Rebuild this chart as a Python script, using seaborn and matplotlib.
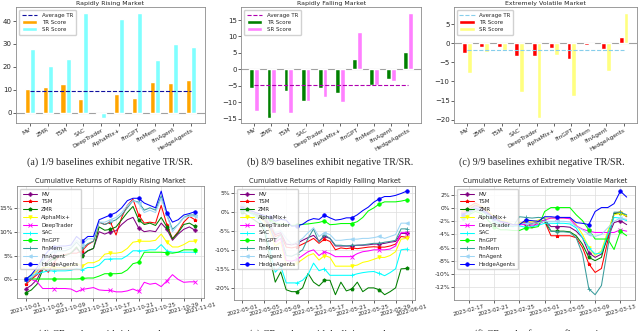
import numpy as np
import pandas as pd
import matplotlib
matplotlib.use("Agg")
import matplotlib.pyplot as plt
import matplotlib.dates as mdates
from matplotlib.ticker import MultipleLocator, FuncFormatter
import seaborn as sns

sns.set_theme(style="ticks")
plt.rcParams.update({"font.family": ["DejaVu Sans"],
                     "axes.edgecolor": "#8c8c8c", "axes.linewidth": 0.6,
                     "xtick.major.size": 2, "ytick.major.size": 2,
                     "xtick.major.width": 0.5, "ytick.major.width": 0.5,
                     "xtick.major.pad": 1, "ytick.major.pad": 1})

# ---------------- bar chart data ----------------
AGENTS = ["MV", "ZMR", "TSM", "SAC", "DeepTrader", "AlphaMix+",
          "FinGPT", "FinMem", "FinAgent", "HedgeAgents"]

rise_tr = [10.5, 11.2, 12.7, 6.2, -0.7, 8.0, 6.3, 13.5, 13.2, 14.3]
rise_sr = [28.0, 20.5, 23.5, 43.7, -2.2, 41.0, 43.3, 23.0, 29.8, 28.7]
fall_tr = [-5.7, -14.8, -6.5, -9.8, -5.8, -7.2, 3.0, -4.7, -3.0, 5.4]
fall_sr = [-12.7, -13.4, -13.4, -9.8, -8.5, -10.0, 11.5, -4.7, -3.6, 17.3]
vol_tr = [-2.5, -1.1, -1.1, -3.3, -3.3, -1.2, -4.1, -0.5, -1.6, 1.7]
vol_sr = [-7.8, -2.3, -1.8, -12.8, -19.5, -3.1, -13.7, -0.1, -7.2, 8.0]

# ---------------- cumulative return data (%) ----------------
LINE_ORDER = ["MV", "TSM", "ZMR", "AlphaMix+", "DeepTrader", "SAC",
              "FinGPT", "FinMem", "FinAgent", "HedgeAgents"]
LINE_COLORS = {"MV": "purple", "TSM": "red", "ZMR": "green",
               "AlphaMix+": "yellow", "DeepTrader": "magenta", "SAC": "cyan",
               "FinGPT": "lime", "FinMem": "#3a9c9c", "FinAgent": "#9fd6f5",
               "HedgeAgents": "blue"}
LINE_MARKERS = {"MV": "P", "TSM": "*", "ZMR": "p", "AlphaMix+": "v",
                "DeepTrader": "x", "SAC": "+", "FinGPT": "o", "FinMem": "+",
                "FinAgent": "<", "HedgeAgents": "o"}

rise_dates = pd.date_range("2021-10-01", "2021-10-31")
rise_mv = [-2.0, -1.2, 0.0, 2.5, 4.0, 5.0, 5.0, 5.0, 5.5, 6.5, 5.2, 6.0, 6.5, 10.0, 9.5, 10.0, 10.2, 11.5, 12.5, 13.0, 10.8, 10.0, 10.2, 10.0, 11.8, 10.5, 8.2, 9.5, 10.5, 11.0, 10.3]
rise_tsm = [-1.0, 0.0, 1.0, 2.5, 1.5, 3.5, 5.0, 5.2, 5.5, 5.5, 6.0, 7.3, 8.0, 12.0, 11.5, 12.0, 9.3, 13.0, 15.5, 16.8, 13.5, 11.8, 12.0, 11.8, 15.5, 11.5, 8.5, 10.0, 12.0, 13.2, 12.5]
rise_zmr = [-2.8, -2.2, -1.0, 2.0, 3.5, 4.5, 5.0, 5.0, 5.5, 6.8, 5.0, 6.0, 6.5, 11.0, 10.3, 10.5, 11.0, 12.5, 14.0, 15.3, 12.5, 11.5, 11.8, 11.3, 13.0, 11.0, 8.5, 9.8, 11.5, 11.8, 11.1]
rise_alpha = [0.0, 1.0, 1.8, 2.5, 2.5, 2.5, 2.5, 2.5, 2.8, 3.3, 2.8, 3.5, 3.5, 4.0, 5.3, 5.5, 5.5, 5.7, 6.5, 7.8, 8.0, 8.0, 8.0, 8.2, 9.5, 7.8, 6.8, 6.8, 7.3, 8.0, 8.0]
rise_deep = [0.0, 0.0, -0.5, -1.9, -1.9, -1.9, -1.9, -1.9, -2.0, -2.6, -2.1, -1.9, -1.7, -2.2, -2.3, -2.3, -2.6, -2.6, -2.4, -2.0, -2.5, -0.6, -1.0, -0.8, -1.5, -0.3, 1.0, 0.0, -0.6, -0.5, -0.5]
rise_sac = [0.0, 0.8, 1.2, 1.5, 1.8, 1.8, 1.8, 1.8, 1.9, 2.3, 2.0, 2.5, 2.5, 3.0, 4.2, 4.3, 4.3, 4.3, 5.0, 6.0, 6.0, 6.0, 6.2, 6.2, 7.3, 6.0, 5.7, 5.7, 5.7, 5.7, 5.7]
rise_fingpt = [0.0, 0.1, 0.1, 0.1, 0.1, 0.1, 0.1, 0.1, 0.1, 0.1, 0.2, 0.3, 0.3, 0.7, 1.2, 1.2, 1.2, 1.3, 2.0, 3.3, 3.6, 5.7, 5.7, 5.7, 5.7, 5.6, 5.5, 5.7, 6.2, 6.2, 6.2]
rise_finmem = [-0.3, 0.3, 1.5, 4.0, 5.0, 6.0, 6.0, 6.0, 6.5, 7.8, 6.5, 7.5, 8.0, 12.0, 11.5, 12.0, 12.5, 13.5, 15.0, 16.5, 16.2, 14.5, 15.0, 14.5, 17.5, 13.5, 10.5, 11.5, 13.0, 13.5, 13.5]
rise_finagent = [0.0, 0.5, 1.5, 3.5, 5.0, 6.0, 6.5, 6.5, 6.8, 8.2, 7.3, 8.5, 8.5, 12.0, 12.0, 12.5, 13.0, 14.0, 15.5, 16.5, 16.0, 14.0, 14.5, 14.0, 17.0, 13.5, 10.0, 11.5, 13.0, 13.2, 13.3]
rise_hedge = [0.0, 1.0, 2.5, 4.5, 6.0, 6.8, 7.0, 7.0, 7.2, 9.0, 8.0, 9.0, 9.0, 12.5, 13.0, 13.5, 14.0, 15.0, 16.5, 17.0, 17.0, 16.0, 15.5, 15.0, 18.5, 14.0, 12.0, 12.5, 13.5, 13.8, 14.2]

fall_dates = pd.date_range("2022-05-01", "2022-05-31")
fall_mv = [1.5, 0.5, -0.5, -1.0, -1.5, -3.0, -6.0, -5.5, -8.5, -8.7, -8.3, -7.5, -6.8, -6.2, -7.7, -6.5, -7.0, -9.0, -9.0, -9.0, -9.0, -8.8, -8.8, -8.7, -8.5, -8.5, -8.3, -8.0, -7.8, -5.7, -5.7]
fall_tsm = [1.0, 0.5, -0.5, -1.0, -2.0, -3.5, -6.5, -6.0, -9.3, -9.5, -9.2, -8.5, -7.8, -7.0, -8.3, -7.2, -7.8, -10.0, -9.5, -9.7, -9.5, -9.7, -9.5, -9.3, -9.2, -9.3, -9.3, -9.0, -8.5, -6.5, -6.7]
fall_zmr = [0.0, -1.0, -2.0, -3.0, -5.0, -12.0, -18.5, -15.8, -20.5, -21.0, -21.0, -20.0, -16.2, -18.5, -19.5, -18.0, -18.0, -21.8, -18.5, -20.8, -20.3, -18.5, -21.0, -20.0, -20.0, -20.5, -21.8, -21.0, -20.0, -15.0, -14.9]
fall_alpha = [1.5, 0.5, -0.5, -1.5, -2.5, -5.0, -9.0, -8.0, -14.0, -14.2, -13.5, -12.5, -11.5, -11.0, -12.7, -11.5, -12.0, -14.3, -14.3, -14.3, -14.3, -14.0, -13.3, -13.0, -12.5, -12.0, -12.0, -11.5, -10.5, -7.2, -7.0]
fall_deep = [2.0, 1.0, 0.0, -1.0, -2.0, -4.0, -8.0, -7.0, -12.8, -13.0, -12.5, -11.5, -10.5, -10.0, -11.5, -10.5, -11.0, -11.8, -11.8, -11.8, -11.8, -11.0, -10.5, -10.3, -10.0, -10.0, -10.0, -9.8, -9.0, -5.5, -5.5]
fall_sac = [1.0, 0.0, -1.0, -2.0, -4.0, -10.0, -15.9, -14.3, -18.7, -18.7, -18.7, -18.0, -16.5, -13.5, -15.5, -15.0, -16.7, -16.7, -16.7, -16.7, -16.7, -16.3, -16.0, -15.8, -15.7, -16.2, -16.8, -16.0, -15.0, -10.0, -9.8]
fall_fingpt = [0.5, 0.0, -0.5, -1.0, -1.5, -2.0, -3.0, -3.3, -3.4, -3.6, -3.5, -3.3, -3.2, -3.0, -2.8, -2.4, -3.4, -3.3, -3.1, -3.1, -3.1, -2.6, -1.5, 0.2, 1.0, 2.0, 2.6, 2.6, 2.6, 2.8, 3.1]
fall_finmem = [0.5, 0.0, -0.5, -1.5, -2.0, -4.0, -7.5, -6.0, -11.5, -11.7, -11.0, -10.0, -7.0, -4.5, -8.0, -6.0, -7.0, -8.8, -8.8, -9.0, -8.8, -8.8, -8.7, -8.5, -8.3, -8.3, -8.0, -7.8, -7.5, -4.5, -4.5]
fall_finagent = [2.0, 1.0, 0.0, -0.5, -1.0, -3.0, -5.5, -5.0, -7.0, -8.5, -8.0, -7.0, -5.5, -4.2, -6.5, -5.5, -6.0, -7.5, -7.5, -7.3, -7.2, -7.2, -7.0, -7.0, -6.8, -6.5, -7.0, -6.5, -6.0, -3.0, -3.0]
fall_hedge = [1.0, 0.5, 0.0, -0.5, -1.0, -1.5, -2.5, -2.0, -2.2, -3.8, -3.7, -3.3, -2.3, -1.8, -2.0, -0.9, -1.6, -2.2, -2.0, -1.6, -1.6, -0.8, 0.3, 1.2, 2.5, 3.4, 4.0, 4.0, 4.3, 4.8, 5.4]

vol_dates = pd.date_range("2023-02-16", "2023-03-14")
vol_mv = [-0.8, -0.2, 0.5, 0.2, -0.6, -1.5, -2.0, -2.2, -2.6, -2.4, -2.2, -2.3, -2.2, -1.8, -2.8, -2.8, -2.8, -2.9, -3.5, -4.5, -6.8, -7.5, -7.0, -4.5, -2.2, -1.9, -2.5]
vol_tsm = [-0.5, 0.2, 0.8, 0.3, -0.5, -1.5, -2.0, -2.3, -2.7, -2.5, -2.0, -3.0, -2.0, -2.0, -4.2, -4.2, -4.2, -4.2, -4.5, -6.0, -8.5, -9.8, -9.2, -5.0, -0.8, -0.6, -1.3]
vol_zmr = [-1.0, -0.3, 0.3, 0.0, -0.8, -1.8, -2.3, -2.5, -2.8, -2.3, -2.5, -2.4, -2.2, -2.0, -3.5, -3.5, -3.5, -3.6, -4.2, -5.5, -7.5, -8.0, -7.5, -4.0, -0.8, -0.7, -1.2]
vol_alpha = [-0.6, 0.0, 0.6, 0.3, -0.4, -1.3, -1.8, -2.0, -2.5, -2.3, -2.0, -2.1, -1.8, -1.5, -1.5, -1.5, -1.5, -1.6, -2.5, -4.0, -6.0, -7.2, -6.5, -3.5, -1.0, -0.8, -1.2]
vol_deep = [-0.8, -0.3, 0.3, 0.0, -0.8, -1.6, -2.2, -2.3, -2.6, -2.5, -2.5, -2.6, -2.5, -1.8, -1.5, -1.5, -1.5, -1.6, -2.7, -3.2, -3.5, -3.7, -3.7, -3.7, -3.7, -3.3, -3.5]
vol_sac = [-1.2, -0.6, 0.0, -0.3, -1.2, -2.0, -2.5, -2.8, -2.8, -2.7, -2.9, -2.8, -2.6, -2.3, -2.3, -2.3, -2.3, -2.4, -3.0, -4.5, -6.0, -7.0, -6.8, -4.0, -1.4, -1.5, -1.9]
vol_fingpt = [-1.5, -1.0, -0.5, -0.8, -1.8, -2.8, -3.3, -3.3, -3.4, -3.4, -3.0, -3.0, -2.8, -0.5, 0.1, 0.1, 0.1, 0.1, -1.0, -1.9, -3.3, -4.7, -4.7, -4.7, -6.3, -3.5, -4.2]
vol_finmem = [-1.5, -0.8, -0.2, -0.5, -1.0, -1.8, -2.3, -2.5, -2.8, -1.3, -1.4, -1.5, -1.4, -1.5, -3.5, -3.6, -3.6, -3.7, -4.5, -7.0, -12.3, -13.2, -11.8, -6.0, -0.6, -0.6, -1.0]
vol_finagent = [-1.0, -0.5, 0.2, -0.1, -0.9, -1.8, -2.3, -2.5, -2.6, -2.4, -2.3, -2.4, -2.2, -2.0, -2.0, -2.0, -2.0, -2.1, -2.8, -3.3, -4.0, -4.3, -4.0, -3.0, -2.0, -1.5, -1.7]
vol_hedge = [-1.0, -0.5, 0.0, -0.3, -0.8, -1.5, -2.0, -2.2, -2.5, -2.5, -1.8, -1.9, -2.0, -1.3, -1.3, -1.4, -1.4, -1.4, -2.2, -2.3, -2.5, -0.5, 0.1, 0.1, 0.7, 2.6, 1.7]


def bar_panel(ax, title, tr, sr, tr_color, sr_color, avg_color):
    x = np.arange(len(AGENTS))
    w = 0.28
    ax.axhline(0, color="#a0a0a0", lw=0.8, zorder=1)
    b1 = ax.bar(x - w / 2, tr, w, color=tr_color, label="TR Score", zorder=2)
    b2 = ax.bar(x + w / 2, sr, w, color=sr_color, label="SR Score", zorder=2)
    avg = ax.hlines(np.mean(tr), x[0], x[-1], colors=avg_color,
                    linestyles="--", lw=0.8, label="Average TR", zorder=3)
    ax.set_xticks(x)
    ax.set_xticklabels(AGENTS, rotation=30, ha="right", rotation_mode="anchor",
                       fontsize=4.2)
    ax.tick_params(axis="y", labelsize=5)
    ax.set_title(title, fontsize=4.5, pad=1.5)
    ax.legend(handles=[avg, b1, b2], loc="upper left", fontsize=4,
              handlelength=2.8, borderpad=0.5, labelspacing=0.4,
              framealpha=0.9, edgecolor="#cccccc")


def line_panel(ax, title, dates, series, ystep):
    for name in LINE_ORDER:
        sns.lineplot(x=dates, y=series[name], ax=ax, color=LINE_COLORS[name],
                     marker=LINE_MARKERS[name], markersize=2.5, markevery=5,
                     markeredgewidth=0.6, markeredgecolor=LINE_COLORS[name],
                     lw=0.75, label=name)
    ax.grid(True, color="#dddddd", lw=0.5)
    ax.set_xlabel("")
    ax.set_ylabel("")
    ax.xaxis.set_major_locator(mdates.DayLocator(bymonthday=range(1, 32, 4)))
    ax.xaxis.set_major_formatter(mdates.DateFormatter("%Y-%m-%d"))
    ax.yaxis.set_major_locator(MultipleLocator(ystep))
    ax.yaxis.set_major_formatter(FuncFormatter(lambda v, _: f"{v:.0f}%"))
    plt.setp(ax.get_xticklabels(), rotation=15, fontsize=4)
    ax.tick_params(axis="y", labelsize=4.3)
    ax.set_title(title, fontsize=4.9, pad=2)
    ax.legend(loc="upper left", fontsize=4, handlelength=2.5, borderpad=0.5,
              labelspacing=0.5, framealpha=0.85, edgecolor="#cccccc")


fig = plt.figure(figsize=(6.4, 3.31), dpi=100)

ax_a = fig.add_axes([0.025, 0.628, 0.295, 0.350])
ax_b = fig.add_axes([0.377, 0.628, 0.281, 0.350])
ax_c = fig.add_axes([0.709, 0.628, 0.286, 0.350])
bar_panel(ax_a, "Rapidly Rising Market", rise_tr, rise_sr, "orange", "#80ffff", "#1010a0")
bar_panel(ax_b, "Rapidly Falling Market", fall_tr, fall_sr, "green", "#ff80ff", "#b000b0")
bar_panel(ax_c, "Extremely Volatile Market", vol_tr, vol_sr, "red", "#ffff80", "#87ceeb")
ax_a.yaxis.set_major_locator(MultipleLocator(10))
ax_b.yaxis.set_major_locator(MultipleLocator(5))
ax_c.yaxis.set_major_locator(MultipleLocator(5))

ax_d = fig.add_axes([0.027, 0.100, 0.291, 0.338])
ax_e = fig.add_axes([0.366, 0.094, 0.282, 0.344])
ax_f = fig.add_axes([0.710, 0.094, 0.282, 0.344])
line_panel(ax_d, "Cumulative Returns of Rapidly Rising Market", rise_dates,
           {"MV": rise_mv, "TSM": rise_tsm, "ZMR": rise_zmr, "AlphaMix+": rise_alpha,
            "DeepTrader": rise_deep, "SAC": rise_sac, "FinGPT": rise_fingpt,
            "FinMem": rise_finmem, "FinAgent": rise_finagent, "HedgeAgents": rise_hedge}, 5)
line_panel(ax_e, "Cumulative Returns of Rapidly Falling Market", fall_dates,
           {"MV": fall_mv, "TSM": fall_tsm, "ZMR": fall_zmr, "AlphaMix+": fall_alpha,
            "DeepTrader": fall_deep, "SAC": fall_sac, "FinGPT": fall_fingpt,
            "FinMem": fall_finmem, "FinAgent": fall_finagent, "HedgeAgents": fall_hedge}, 5)
line_panel(ax_f, "Cumulative Returns of Extremely Volatile Market", vol_dates,
           {"MV": vol_mv, "TSM": vol_tsm, "ZMR": vol_zmr, "AlphaMix+": vol_alpha,
            "DeepTrader": vol_deep, "SAC": vol_sac, "FinGPT": vol_fingpt,
            "FinMem": vol_finmem, "FinAgent": vol_finagent, "HedgeAgents": vol_hedge}, 2)

cap = dict(fontsize=7.2, family="Liberation Serif", ha="center", va="baseline")
fig.text(0.172, 0.5015, "(a) 1/9 baselines exhibit negative TR/SR.", **cap)
fig.text(0.516, 0.5015, "(b) 8/9 baselines exhibit negative TR/SR.", **cap)
fig.text(0.847, 0.5015, "(c) 9/9 baselines exhibit negative TR/SR.", **cap)
fig.text(0.165, -0.018, "(d) CR under rapid rising market.", **cap)
fig.text(0.506, -0.018, "(e) CR under rapid declining market.", **cap)
fig.text(0.850, -0.018, "(f) CR under frequent fluctuations.", **cap)

fig.savefig("out.png", dpi=100)
